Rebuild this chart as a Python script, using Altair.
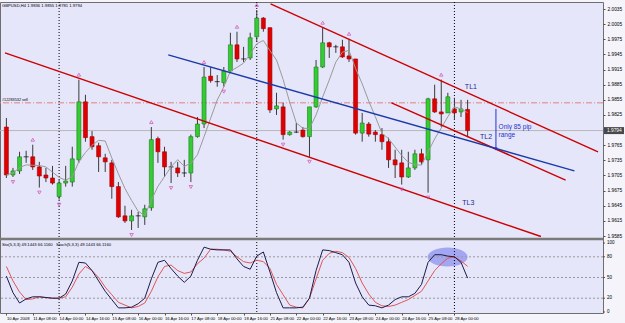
import altair as alt
import pandas as pd

# ---------------- data ----------------
opens = [1.9801, 1.9706, 1.9714, 1.9741, 1.9742, 1.9722, 1.9706, 1.9700, 1.9663, 1.9690,
         1.9692, 1.9736, 1.9851, 1.9782, 1.9764, 1.9740, 1.9730, 1.9683, 1.9625, 1.9615,
         1.9625, 1.9623, 1.9641, 1.9778, 1.9752, 1.9722, 1.9720, 1.9710, 1.9710, 1.9782,
         1.9807, 1.9902, 1.9891, 1.9889, 1.9912, 1.9964, 1.9936, 1.9938, 1.9980, 2.0017,
         1.9998, 1.9837, 1.9841, 1.9786, 1.9791, 1.9795, 1.9782, 1.9841, 1.9920, 1.9968,
         1.9960, 1.9960, 1.9942, 1.9936, 1.9789, 1.9807, 1.9791, 1.9786, 1.9772, 1.9736,
         1.9730, 1.9702, 1.9720, 1.9748, 1.9736, 1.9857, 1.9831, 1.9829, 1.9837, 1.9831,
         1.9836]
highs = [1.9819, 1.9720, 1.9752, 1.9754, 1.9766, 1.9732, 1.9720, 1.9724, 1.9696, 1.9724,
         1.9762, 1.9895, 1.9865, 1.9793, 1.9770, 1.9748, 1.9736, 1.9692, 1.9645, 1.9637,
         1.9633, 1.9647, 1.9801, 1.9782, 1.9762, 1.9732, 1.9732, 1.9736, 1.9786, 1.9821,
         1.9920, 1.9920, 1.9904, 1.9920, 1.9988, 1.9990, 1.9960, 1.9988, 2.0033, 2.0019,
         1.9998, 1.9869, 1.9849, 1.9793, 1.9809, 1.9801, 1.9841, 1.9934, 1.9998, 1.9970,
         1.9964, 1.9974, 1.9976, 1.9936, 1.9829, 1.9811, 1.9795, 1.9799, 1.9780, 1.9756,
         1.9756, 1.9752, 1.9756, 1.9758, 1.9859, 1.9885, 1.9895, 1.9869, 1.9859, 1.9855,
         1.9855]
lows = [1.9700, 1.9702, 1.9708, 1.9730, 1.9716, 1.9681, 1.9692, 1.9687, 1.9657, 1.9683,
        1.9683, 1.9730, 1.9772, 1.9756, 1.9712, 1.9712, 1.9659, 1.9621, 1.9611, 1.9597,
        1.9601, 1.9607, 1.9635, 1.9730, 1.9702, 1.9690, 1.9702, 1.9702, 1.9692, 1.9780,
        1.9799, 1.9889, 1.9881, 1.9881, 1.9908, 1.9930, 1.9930, 1.9934, 1.9970, 1.9990,
        1.9829, 1.9825, 1.9776, 1.9784, 1.9789, 1.9780, 1.9742, 1.9839, 1.9918, 1.9938,
        1.9948, 1.9938, 1.9930, 1.9786, 1.9772, 1.9782, 1.9772, 1.9756, 1.9720, 1.9700,
        1.9687, 1.9700, 1.9716, 1.9726, 1.9671, 1.9829, 1.9801, 1.9829, 1.9815, 1.9821,
        1.9781]
closes = [1.9706, 1.9714, 1.9742, 1.9742, 1.9722, 1.9704, 1.9700, 1.9690, 1.9690, 1.9694,
          1.9738, 1.9851, 1.9780, 1.9762, 1.9742, 1.9732, 1.9683, 1.9623, 1.9615, 1.9625,
          1.9625, 1.9639, 1.9776, 1.9752, 1.9722, 1.9722, 1.9710, 1.9710, 1.9782, 1.9807,
          1.9900, 1.9893, 1.9891, 1.9912, 1.9964, 1.9936, 1.9936, 1.9978, 2.0017, 1.9996,
          1.9835, 1.9843, 1.9786, 1.9791, 1.9791, 1.9782, 1.9841, 1.9920, 1.9968, 1.9960,
          1.9960, 1.9940, 1.9936, 1.9789, 1.9809, 1.9787, 1.9786, 1.9772, 1.9736, 1.9726,
          1.9702, 1.9720, 1.9748, 1.9732, 1.9857, 1.9831, 1.9827, 1.9861, 1.9829, 1.9837,
          1.9794]
sto_main = [52, 28, 13, 19, 22, 22, 21, 20, 20, 26,
            45, 72, 71, 60, 45, 30, 18, 6, 6, 7,
            12, 20, 48, 72, 75, 63, 52, 43, 52, 75,
            94, 91, 90, 90, 90, 77, 66, 62, 81, 87,
            58, 28, 6, 6, 6, 7, 20, 60, 90, 89,
            86, 83, 72, 42, 22, 10, 9, 6, 10, 18,
            22, 22, 27, 40, 72, 83, 83, 81, 80, 72,
            49.14]
sto_signal = [66, 45, 29, 18, 19, 22, 21, 20, 20, 22,
              36, 55, 66, 60, 50, 36, 25, 14, 10, 6,
              8, 13, 30, 51, 66, 68, 60, 56, 58, 70,
              78, 91, 91, 90, 88, 80, 73, 71, 75, 73,
              63, 40, 25, 10, 7, 6, 20, 48, 75, 85,
              88, 86, 79, 63, 42, 26, 14, 9, 8, 10,
              14, 18, 24, 30, 45, 60, 70, 78, 80, 74,
              66.12]
time_labels = ["10 Apr 2008", "11 Apr 08:00", "14 Apr 00:00", "14 Apr 16:00", "15 Apr 08:00",
               "16 Apr 00:00", "16 Apr 16:00", "17 Apr 08:00", "18 Apr 00:00", "18 Apr 16:00",
               "21 Apr 08:00", "22 Apr 00:00", "22 Apr 16:00", "23 Apr 08:00", "24 Apr 00:00",
               "24 Apr 16:00", "25 Apr 08:00", "28 Apr 00:00"]
label_bars = [4 * k for k in range(len(time_labels))]
separator_bars = [8, 38, 68]
frac_up = [4, 11, 22, 30, 35, 38, 48, 52, 66]
frac_down = [1, 5, 8, 19, 25, 28, 33, 42, 46, 60, 64]
price_ticks = [2.0035, 2.0005, 1.9975, 1.9945, 1.9915, 1.9885, 1.9855, 1.9825,
               1.9765, 1.9735, 1.9705, 1.9675, 1.9645, 1.9615, 1.9585]
sto_ticks = [0, 20, 50, 80, 100]
sto_levels = [20, 50, 80]

tl_names = ["TL3", "TL1", "TL2", "Blue"]
tl_x0 = [-0.21, 40.09, 58.45, 24.57]
tl_p0 = [1.9948, 2.0045, 1.9849, 1.9944]
tl_x1 = [81.13, 89.79, 84.87, 86.21]
tl_p1 = [1.9584, 1.9752, 1.9696, 1.9714]
tl_colors = ["#cc0000", "#cc0000", "#cc0000", "#1a3aa8"]

tl_label_text = ["TL1", "TL2", "TL3"]
tl_label_x = [70.5, 72.8, 70.1]
tl_label_p = [1.9881, 1.9782, 1.9651]

order_price = [1.9849]
order_label = ["#12283532 sell"]
bid_price = [1.9794]
range_bar = [74.3]
range_top = [1.9837]
range_bottom = [1.9756]
range_text = ["Only 85 pip", "range"]
range_text_x = [74.7, 74.7]
range_text_p = [1.9801, 1.9786]
title_price = ["GBPUSD,H4  1.9836 1.9855 1.9781 1.9794"]
title_sto = ["Sto(5,3,3) 49.1443 66.1160"]
title_stoch = ["Stoch(5,3,3) 49.1443 66.1160"]
ellipse_bar = [66.96]
ellipse_value = [79.7]

# ---------------- frames ----------------
n = len(opens)
df = pd.DataFrame({"i": list(range(n)), "open": opens, "high": highs, "low": lows,
                   "close": closes, "main": sto_main, "signal": sto_signal})
df["bull"] = df["close"] >= df["open"]
df["doji"] = (df["close"] - df["open"]).abs() < 0.00015
df_body = df[~df["doji"]]
df_doji = df[df["doji"]]
df_up = df.loc[frac_up]
df_down = df.loc[frac_down]
df_tl = pd.DataFrame({"name": tl_names, "x0": tl_x0, "p0": tl_p0, "x1": tl_x1, "p1": tl_p1})
df_tll = pd.DataFrame({"t": tl_label_text, "x": tl_label_x, "p": tl_label_p})
df_sep = pd.DataFrame({"s": separator_bars})
df_order = pd.DataFrame({"p": order_price, "t": order_label})
df_bid = pd.DataFrame({"p": bid_price, "t": ["%.4f" % b for b in bid_price]})
df_range = pd.DataFrame({"x": range_bar, "top": range_top, "bottom": range_bottom})
df_rtext = pd.DataFrame({"t": range_text, "x": range_text_x, "p": range_text_p})
df_lvl = pd.DataFrame({"v": sto_levels})
df_stt = pd.DataFrame({"v": sto_ticks, "t": [str(v) for v in sto_ticks]})
df_ell = pd.DataFrame({"x": ellipse_bar, "v": ellipse_value})

FONT = "Liberation Sans"
W, H = 603, 311
X_DOMAIN = [-0.21, 89.79]
# price panel occupies the upper part of the view, stochastic the lower part
P_DOMAIN = [1.94324, 2.00489]
S_DOMAIN = [-1.45, 449.3]
PANEL_GAP = 105.8  # stochastic-scale position of the band between the panels

xs = alt.Scale(domain=X_DOMAIN, nice=False, zero=False)
ps = alt.Scale(domain=P_DOMAIN, nice=False, zero=False)
ss = alt.Scale(domain=S_DOMAIN, nice=False, zero=False)

price_axis = alt.Axis(orient="right", values=price_ticks, format=".4f", title=None, grid=False,
                      labelFontSize=4.8, tickSize=2, labelPadding=2, labelFont=FONT,
                      domain=False, tickColor="#505050", labelOverlap=False, labelColor="#000000")
label_js = "[" + ",".join("'%s'" % t for t in time_labels) + "]"
time_axis = alt.Axis(values=label_bars, labelExpr=label_js + "[round(datum.value/4)]",
                     labelAlign="left", labelFontSize=4.2, tickSize=2, labelPadding=1,
                     title=None, grid=False, labelFont=FONT, labelFlush=False,
                     labelOverlap=False, domain=False, tickColor="#505050", labelColor="#000000")


def XX(f):
    return alt.X(f, type="quantitative", scale=xs, axis=time_axis, title=None)


def YP(f, axis=False):
    return alt.Y(f, type="quantitative", scale=ps, axis=price_axis if axis else None, title=None)


def YS(f):
    return alt.Y(f, type="quantitative", scale=ss, axis=None, title=None)


def txt(frame, x, y, size, color="#000000", align="left"):
    return alt.Chart(frame).mark_text(align=align, baseline="middle", fontSize=size, font=FONT,
                                      color=color).encode(x=x, y=y, text="t")


# ---------------- price panel ----------------
order_line = alt.Chart(df_order).mark_rule(color="#e08080", strokeDash=[6, 2, 1, 2], strokeWidth=1).encode(y=YP("p"))
order_text = alt.Chart(df_order).mark_text(align="left", baseline="bottom", dy=-1, fontSize=3.8,
                                           font=FONT, color="#000000").encode(x=alt.value(2), y=YP("p"), text="t")
bid_line = alt.Chart(df_bid).mark_rule(color="#b8b8b8", strokeWidth=1).encode(y=YP("p"))
seps = alt.Chart(df_sep).mark_rule(color="#000000", strokeDash=[1, 2], strokeWidth=1).encode(x=XX("s"))
wicks = alt.Chart(df).mark_rule(color="#3a3a3a", strokeWidth=1).encode(x=XX("i"), y=YP("low", True), y2="high")
bodies = alt.Chart(df_body).mark_bar(width=4, strokeWidth=0.6).encode(
    x=XX("i"), y=YP("open"), y2="close",
    color=alt.condition("datum.bull", alt.value("#33cc33"), alt.value("#e00000")),
    stroke=alt.condition("datum.bull", alt.value("#1d7a1d"), alt.value("#a00000")))
dojis = alt.Chart(df_doji).mark_tick(orient="horizontal", size=5, thickness=1, color="#000000").encode(
    x=XX("i"), y=YP("close"))
ma = alt.Chart(df).transform_window(ma="mean(close)", frame=[-4, 0], sort=[alt.SortField("i")]).mark_line(
    color="#9a9a9a", strokeWidth=1).encode(x=XX("i"), y=YP("ma"))
tlines = alt.Chart(df_tl).mark_rule(strokeWidth=1.4, clip=True).encode(
    x=XX("x0"), x2="x1", y=YP("p0"), y2="p1",
    color=alt.Color("name:N", scale=alt.Scale(domain=tl_names, range=tl_colors), legend=None))
f_up = alt.Chart(df_up).mark_point(shape="triangle-up", filled=False, size=12, strokeWidth=1,
                                   color="#d048b0", yOffset=-5).encode(x=XX("i"), y=YP("high"))
f_down = alt.Chart(df_down).mark_point(shape="triangle-down", filled=False, size=12, strokeWidth=1,
                                       color="#d048b0", yOffset=5).encode(x=XX("i"), y=YP("low"))
tl_text = txt(df_tll, XX("x"), YP("p"), 7, "#1a2a8a", "center")
r_rule = alt.Chart(df_range).mark_rule(color="#2233cc", strokeWidth=1).encode(x=XX("x"), y=YP("top"), y2="bottom")
r_head = alt.Chart(df_range).mark_point(shape="triangle-down", filled=True, size=14, color="#2233cc",
                                        yOffset=-1).encode(x=XX("x"), y=YP("bottom"))
r_text = txt(df_rtext, XX("x"), YP("p"), 6.5, "#2233cc")
bid_box = alt.Chart(df_bid).mark_tick(orient="horizontal", size=20, thickness=7, color="#000000").encode(
    x=alt.value(614), y=YP("p"))
bid_text = txt(df_bid, alt.value(607), YP("p"), 4.8, "#ffffff")
ttl_price = txt(pd.DataFrame({"t": title_price}), alt.value(2), alt.value(4), 4.2)

# ---------------- stochastic panel ----------------
ELLIPSE = ("M-1,0C-1,-0.262,-0.552,-0.475,0,-0.475C0.552,-0.475,1,-0.262,1,0"
           "C1,0.262,0.552,0.475,0,0.475C-0.552,0.475,-1,0.262,-1,0Z")
ellipse = alt.Chart(df_ell).mark_point(
    shape=ELLIPSE, size=1600, filled=True, color="#8c90ee", opacity=0.75, strokeWidth=0).encode(
    x=XX("x"), y=YS("v"))
levels = alt.Chart(df_lvl).mark_rule(color="#9a9a9a", strokeDash=[2, 2], strokeWidth=1).encode(y=YS("v"))
sig_line = alt.Chart(df).mark_line(color="#e05555", strokeWidth=1).encode(x=XX("i"), y=YS("signal"))
main_line = alt.Chart(df).mark_line(color="#1c1c48", strokeWidth=1).encode(x=XX("i"), y=YS("main"))
sto_tick_marks = alt.Chart(df_stt).mark_rule(color="#505050", strokeWidth=1).encode(
    x=alt.value(W), x2=alt.value(W + 2), y=YS("v"))
sto_tick_text = txt(df_stt, alt.value(W + 4), YS("v"), 4.5)
gap_band = alt.Chart(pd.DataFrame({"v": [PANEL_GAP]})).mark_rule(color="#7a7a7a", strokeWidth=2.5).encode(
    y=YS("v"))
ttl_sto = txt(pd.DataFrame({"t": title_sto}), alt.value(2), alt.value(243), 4.2)
ttl_stoch = txt(pd.DataFrame({"t": title_stoch}), alt.value(56), alt.value(243), 4.2)

chart = alt.layer(
    order_line, bid_line, ellipse, levels, seps, wicks, bodies, dojis, ma, tlines, f_up, f_down,
    tl_text, r_rule, r_head, r_text, order_text, bid_box, bid_text, ttl_price,
    sig_line, main_line, sto_tick_marks, sto_tick_text, gap_band, ttl_sto, ttl_stoch
).resolve_scale(y="independent").properties(
    width=W, height=H,
    autosize=alt.AutoSizeParams(type="none"),
    padding={"left": 0, "top": 2, "right": 22, "bottom": 10},
    background="#f4f4fa",
).configure_view(fill="#e6e6fa", stroke="#6e6e6e", strokeWidth=1)

chart.save("out.html", embed_options={"renderer": "svg", "actions": False})
